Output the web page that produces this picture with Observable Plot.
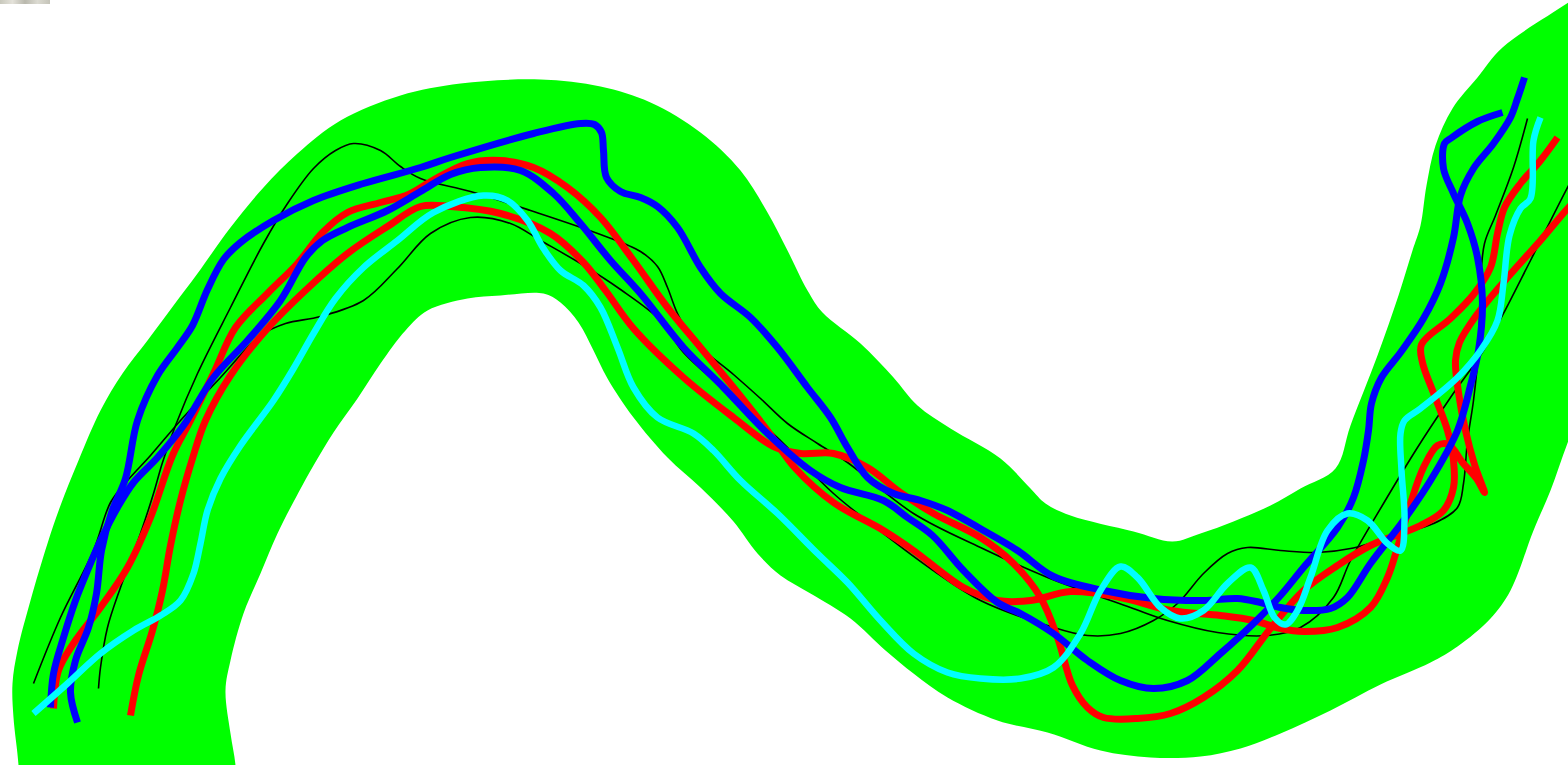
<!DOCTYPE html>
<html>
<head>
<meta charset="utf-8">
<script src="https://cdn.jsdelivr.net/npm/d3@7"></script>
<script src="https://cdn.jsdelivr.net/npm/@observablehq/plot@0.6"></script>
<style>
  html, body { margin: 0; padding: 0; background: #fff; overflow: hidden; }
  #chart { position: relative; width: 1568px; height: 765px; }
  #chip { position: absolute; left: 0; top: 0; width: 50px; height: 4px;
          background: linear-gradient(90deg,#c8c8bc,#e4e2da,#b9b8ad,#dcdbd2,#c4c3b8); }
</style>
</head>
<body>
<div id="chart"><div id="chip"></div></div>
<script>
// Green corridor outline (outer edge, then inner edge back)
const corridor = [
  [18,790],[18,765],[13,717],[12,683],[17,650],[30,600],[47,543],[60,505],[78,460],[100,410],
  [122,373],[147,340],[173,305],[197,273],[230,227],[263,187],[297,153],[340,120],[400,95],
  [460,83],[540,79],[600,86],[650,102],[700,132],[740,170],[767,212],[787,250],[807,290],
  [822,312],[860,343],[893,377],[917,405],[950,428],[1000,458],[1030,488],[1045,503],
  [1070,515],[1133,531],[1172,541],[1200,533],[1233,521],[1270,505],[1300,488],[1335,468],
  [1350,425],[1377,355],[1398,295],[1412,250],[1420,225],[1426,185],[1435,145],[1452,108],
  [1477,77],[1502,47],[1568,2],[1600,-20],[1600,360],[1568,440],[1550,490],[1533,530],
  [1510,590],[1490,618],[1457,646],[1430,662],[1380,684],[1330,710],[1280,733],[1240,748],
  [1200,756],[1150,757],[1100,750],[1047,732],[997,720],[947,697],[913,673],[885,650],
  [850,618],[810,593],[780,575],[757,553],[733,521],[700,487],[667,457],[633,417],
  [607,378],[593,350],[578,322],[560,302],[543,293],[500,295],[467,298],[427,310],
  [405,330],[380,363],[357,398],[333,432],[313,465],[298,492],[277,533],[260,573],
  [243,613],[230,660],[225,690],[230,733],[235,765],[235,790]
];

// Thin black tracks
const black1 = [
  [33,683],[60,617],[93,550],[110,502],[127,480],[150,455],[180,420],[220,377],[260,335],
  [285,323],[320,316],[363,300],[397,268],[430,233],[470,217],[510,223],[540,240],[580,263],
  [620,289],[660,320],[683,352],[733,397],[783,443],[833,493],[883,533],[930,568],[980,600],
  [1047,625],[1087,635],[1120,633],[1153,620],[1177,603],[1203,573],[1227,553],[1247,547],
  [1280,550],[1317,552],[1350,548],[1400,533],[1433,523],[1457,507],[1463,483],[1467,440],
  [1473,400],[1478,350],[1480,283],[1484,243],[1495,215],[1513,167],[1527,118]
];
const black2 = [
  [98,688],[100,667],[107,627],[120,587],[140,533],[153,493],[162,462],[175,425],[197,373],
  [230,307],[263,243],[287,203],[313,168],[335,150],[353,143],[380,150],[400,166],[420,178],
  [470,191],[530,210],[600,234],[640,251],[657,266],[667,287],[677,313],[693,340],[733,374],
  [760,398],[787,423],[817,443],[847,462],[913,513],[980,547],[1047,577],[1130,607],
  [1167,620],[1217,632],[1267,635],[1300,627],[1333,597],[1350,560],[1383,503],[1417,447],
  [1450,397],[1483,350],[1503,313],[1530,260],[1568,185],[1590,145]
];

// Red tracks
const redA = [
  [53,708],[58,670],[73,643],[100,607],[127,567],[150,517],[172,455],[190,420],[213,373],
  [235,327],[267,293],[297,263],[322,232],[347,212],[380,202],[408,194],[432,180],[467,163],
  [500,160],[533,167],[567,187],[600,217],[633,260],[667,307],[700,347],[733,387],[767,430],
  [795,468],[833,502],[883,530],[913,550],[963,587],[997,600],[1030,600],[1070,591],
  [1120,597],[1170,610],[1220,615],[1253,620],[1280,628],[1303,631],[1337,627],[1370,607],
  [1387,577],[1397,547],[1410,503],[1423,467],[1437,445],[1448,444],[1462,462],[1476,478],
  [1484,492],[1474,464],[1465,430],[1458,392],[1455,360],[1459,342],[1475,316],[1507,277],
  [1540,240],[1568,207],[1590,185]
];
const redB = [
  [130,715],[138,675],[152,630],[162,590],[170,545],[180,500],[192,458],[205,420],[230,375],
  [267,328],[307,288],[347,253],[387,226],[420,206],[450,206],[500,213],[550,233],[583,262],
  [605,290],[633,328],[683,377],[733,417],[773,446],[800,453],[833,453],[867,467],[900,492],
  [933,513],[980,537],[1013,563],[1040,597],[1057,637],[1072,685],[1087,707],[1103,717],
  [1137,718],[1170,713],[1203,697],[1237,670],[1270,628],[1303,590],[1337,565],[1370,545],
  [1420,525],[1443,510],[1453,487],[1453,460],[1447,430],[1434,395],[1422,362],[1421,344],
  [1450,318],[1473,294],[1490,267],[1497,233],[1504,207],[1520,183],[1540,160],[1557,137]
];

// Blue tracks
const blueA = [
  [77,722],[70,692],[75,660],[88,627],[96,593],[101,550],[111,512],[125,478],[137,420],
  [157,375],[177,347],[192,325],[207,289],[223,259],[240,242],[273,220],[313,200],[363,183],
  [420,167],[450,157],[533,133],[580,123],[594,124],[601,132],[603,150],[606,177],[620,191],
  [640,197],[657,206],[677,227],[700,267],[720,293],[750,317],[777,347],[807,387],[830,417],
  [847,447],[867,477],[893,493],[920,500],[947,510],[983,530],[1017,550],[1053,576],
  [1103,590],[1153,598],[1203,600],[1237,598],[1260,602],[1280,607],[1303,610],[1330,608],
  [1347,597],[1370,563],[1403,520],[1430,480],[1457,430],[1470,385],[1478,350],[1482,303],
  [1477,257],[1467,223],[1453,193],[1443,168],[1444,143],[1450,138],[1477,121],[1502,112]
];
const blueB = [
  [50,707],[53,673],[63,637],[75,600],[87,570],[100,540],[117,507],[133,482],[157,457],
  [183,425],[213,377],[247,340],[280,300],[305,257],[322,240],[347,227],[387,210],[420,191],
  [450,174],[480,167],[520,170],[553,193],[580,223],[610,260],[640,293],[683,347],[723,387],
  [767,433],[810,470],[840,487],[883,500],[907,517],[932,535],[963,570],[997,602],[1020,613],
  [1053,633],[1087,660],[1120,680],[1153,688],[1187,680],[1220,653],[1253,623],[1280,595],
  [1303,567],[1337,527],[1353,497],[1363,460],[1368,430],[1371,403],[1381,377],[1400,352],
  [1423,318],[1440,283],[1453,237],[1460,195],[1473,168],[1493,143],[1510,117],[1517,98],
  [1524,77]
];

// Cyan track
const cyan = [
  [33,713],[67,683],[100,653],[133,630],[160,615],[180,600],[193,573],[200,543],[207,510],
  [220,478],[240,445],[273,400],[293,368],[313,333],[335,298],[363,267],[397,240],[433,212],
  [483,195],[507,200],[527,220],[543,248],[560,270],[583,285],[600,307],[617,347],[633,387],
  [657,417],[693,433],[713,450],[740,480],[777,513],[817,553],[847,582],[880,620],[913,653],
  [947,672],[980,678],[1020,678],[1053,667],[1080,633],[1100,590],[1120,566],[1137,577],
  [1160,607],[1180,618],[1203,610],[1227,583],[1250,567],[1263,590],[1274,617],[1285,624],
  [1297,610],[1310,577],[1327,530],[1347,513],[1367,520],[1387,543],[1400,550],[1404,520],
  [1401,470],[1400,433],[1404,420],[1420,408],[1457,377],[1480,350],[1497,320],[1503,283],
  [1509,235],[1520,208],[1530,198],[1533,140],[1540,117]
];

const X = d => d[0], Y = d => d[1];
const track = (data, color, w) =>
  Plot.line(data, {x: X, y: Y, stroke: color, strokeWidth: w, curve: "catmull-rom",
                   strokeLinecap: "butt", strokeLinejoin: "round", clip: true});

const chart = Plot.plot({
  width: 1568,
  height: 765,
  margin: 0,
  style: {background: "#ffffff"},
  x: {domain: [0, 1568], range: [0, 1568], axis: null},
  y: {domain: [0, 765], range: [0, 765], axis: null},
  marks: [
    Plot.line(corridor, {x: X, y: Y, fill: "#00ff00", stroke: "none", curve: "catmull-rom", clip: true}),
    track(black1, "#000000", 1.6),
    track(black2, "#000000", 1.6),
    track(redA, "#ff0000", 7),
    track(redB, "#ff0000", 7),
    track(blueA, "#0000ff", 7),
    track(blueB, "#0000ff", 7),
    track(cyan, "#00ffff", 6.5)
  ]
});
document.getElementById("chart").prepend(chart);
</script>
</body>
</html>
